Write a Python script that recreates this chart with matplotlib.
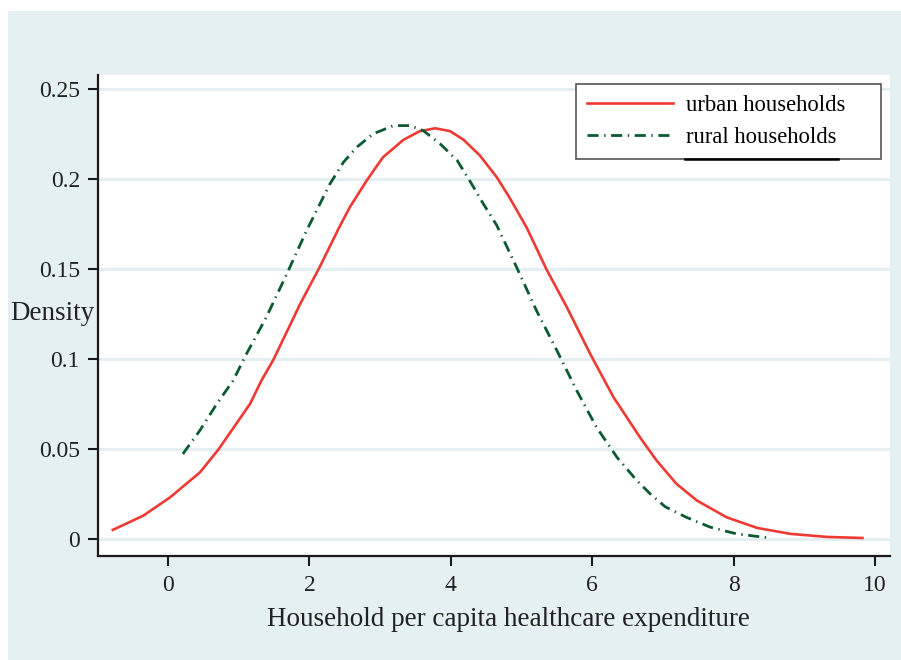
import matplotlib.pyplot as plt
from matplotlib.patches import Rectangle
from matplotlib.lines import Line2D

plt.rcParams['font.family'] = ['Liberation Serif', 'DejaVu Serif']

# density curves
urban_x = [-0.78, -0.35, 0.03, 0.45, 0.71, 1.16, 1.32, 1.49, 1.87, 2.15, 2.41, 2.57,
           2.81, 3.04, 3.33, 3.56, 3.78, 3.99, 4.18, 4.41, 4.65, 4.84, 5.07, 5.35,
           5.64, 5.97, 6.30, 6.68, 6.91, 7.19, 7.48, 7.90, 8.33, 8.80, 9.32, 9.82]
urban_y = [0.0051, 0.013, 0.0232, 0.037, 0.0496, 0.0751, 0.088, 0.0996, 0.1307, 0.1515,
           0.1723, 0.1843, 0.1992, 0.2121, 0.2218, 0.2266, 0.2282, 0.2266, 0.2218, 0.2131,
           0.201, 0.189, 0.1732, 0.150, 0.1288, 0.1029, 0.0788, 0.0562, 0.0436, 0.0307,
           0.0214, 0.0121, 0.0062, 0.0029, 0.0012, 0.0006]

rural_x = [0.21, 0.45, 0.69, 0.92, 1.11, 1.39, 1.68, 1.96, 2.29, 2.48, 2.67, 2.90,
           3.19, 3.42, 3.61, 3.85, 4.09, 4.28, 4.46, 4.65, 4.93, 5.21, 5.50, 5.78,
           6.06, 6.35, 6.63, 6.82, 7.03, 7.33, 7.67, 8.04, 8.47]
rural_y = [0.0473, 0.0603, 0.0751, 0.088, 0.1029, 0.1232, 0.1473, 0.1714, 0.1973, 0.2093,
           0.2177, 0.2251, 0.2297, 0.2297, 0.2269, 0.2195, 0.2103, 0.1982, 0.1862, 0.1742,
           0.151, 0.127, 0.1047, 0.0825, 0.0621, 0.0454, 0.0325, 0.0251, 0.018, 0.0121,
           0.0066, 0.0029, 0.0008]

x_ticks = [0, 2, 4, 6, 8, 10]
y_ticks = [0, 0.05, 0.1, 0.15, 0.2, 0.25]
y_labels = ['0', '0.05', '0.1', '0.15', '0.2', '0.25']

bg = '#e5f0f3'
red = '#ee3a33'
green = '#0b5a32'

fig = plt.figure(figsize=(9.01, 6.60), dpi=100, facecolor='white')
fig.patches.append(Rectangle((8/901, 0), 1 - 8/901, 1 - 11/660, transform=fig.transFigure,
                             facecolor=bg, edgecolor='none', zorder=-10))

ax = fig.add_axes([98/901, 1 - 556/660, 792/901, 481/660])
ax.set_facecolor('white')

ax.plot(urban_x, urban_y, color=red, lw=1.9, label='urban households')
ax.plot(rural_x, rural_y, color=green, lw=2.0, linestyle=(0, (4, 2, 0.5, 2)),
        label='rural households')

ax.set_xlim(-0.99, 10.21)
ax.set_ylim(-0.0094, 0.2578)
ax.set_xticks(x_ticks)
ax.set_yticks(y_ticks)
ax.set_yticklabels(y_labels)
ax.grid(axis='y', color='#e2eef1', lw=2)
ax.set_axisbelow(True)

for s in ['top', 'right']:
    ax.spines[s].set_visible(False)
for s in ['left', 'bottom']:
    ax.spines[s].set_linewidth(1.6)
    ax.spines[s].set_color('#1a1a1a')
ax.tick_params(length=7, width=1.5, color='#1a1a1a', labelsize=17,
               labelcolor='#222222', pad=6)
ax.tick_params(axis='x', pad=7)

ax.set_xlabel('Household per capita healthcare expenditure', fontsize=19.5,
              color='#222222')
ax.xaxis.set_label_coords(0.518, -0.106)
ax.xaxis.label.set_va('top')
ax.set_ylabel('Density', rotation=0, fontsize=19.5, color='#222222')
ax.yaxis.set_label_coords(-0.058, 0.505)
ax.yaxis.label.set_ha('center')
ax.yaxis.label.set_va('center')

leg = ax.legend(loc='upper left', mode='expand',
                bbox_to_anchor=(576/901, 1 - 159/660, 305/901, 75/660),
                bbox_transform=fig.transFigure,
                fontsize=16.3, frameon=True, fancybox=False, framealpha=1,
                handlelength=3.8, handletextpad=0.57, borderpad=0.5, labelspacing=0.45,
                borderaxespad=0)
leg.get_frame().set_edgecolor('#555555')
leg.get_frame().set_linewidth(1.2)

# dark rule under the legend text
fig.add_artist(Line2D([685/901, 838/901], [1 - 159/660, 1 - 159/660], color='black', lw=1.8))

fig.savefig('out.png', dpi=100, facecolor='white')
